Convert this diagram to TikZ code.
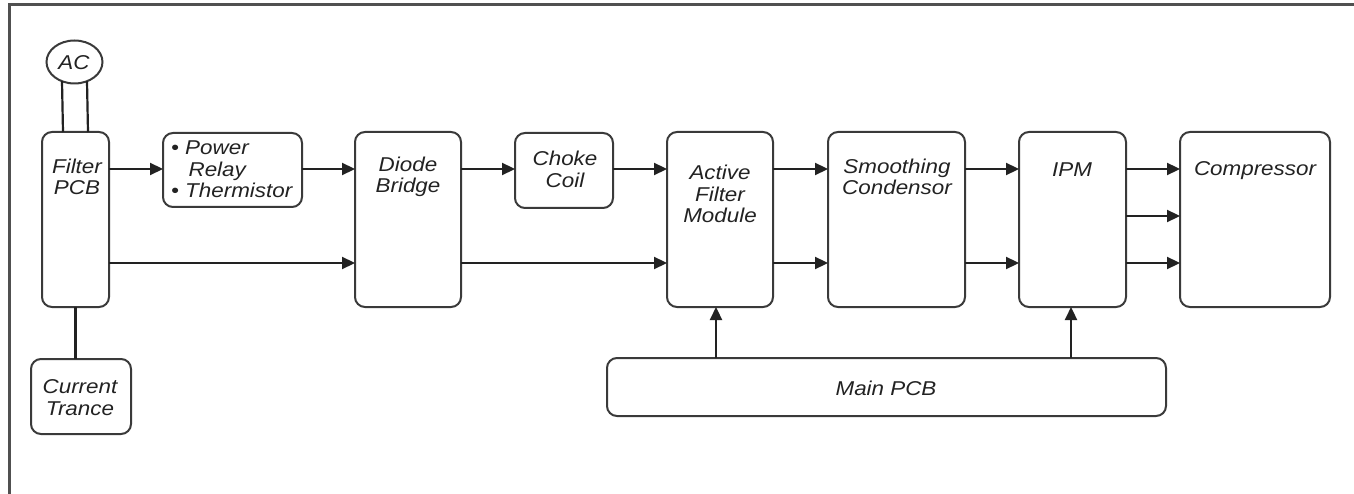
\documentclass[tikz,border=0pt]{standalone}
\usepackage{fontspec}
\setmainfont{Liberation Sans}[FakeStretch=1.12]
\usetikzlibrary{arrows.meta,shapes.geometric}
\definecolor{boxc}{HTML}{3A3A3A}
\definecolor{linec}{HTML}{222222}
\definecolor{framec}{HTML}{505050}
\begin{document}
\begin{tikzpicture}[x=1pt,y=-1pt,
  box/.style={draw=boxc,line width=2pt,rounded corners=10pt,inner sep=0pt,outer sep=0pt},
  lbl/.style={font=\fontsize{20}{21.5}\selectfont\itshape,text=linec,align=center,inner sep=0pt},
  conn/.style={draw=linec,line width=2.2pt},
  arr/.style={conn,-{Triangle[length=13pt,width=12pt]}}]
\useasboundingbox (0,0) rectangle (1354,494);
\draw[framec,line width=3pt] (1354,5) -- (9,5) -- (9,494);

% boxes
\node[ellipse,draw=boxc,line width=2pt,minimum width=56pt,minimum height=43pt,inner sep=0pt,outer sep=0pt] (ac) at (74.5,62) {};
\node[box,minimum width=67pt,minimum height=175pt] (filt) at (75.5,219.5) {};
\node[box,minimum width=100pt,minimum height=75pt] (cur) at (81,396.5) {};
\node[box,minimum width=139pt,minimum height=74pt] (relay) at (232.5,170) {};
\node[box,minimum width=106pt,minimum height=175pt] (diode) at (408,219.5) {};
\node[box,minimum width=98pt,minimum height=75pt] (choke) at (564,170.5) {};
\node[box,minimum width=106pt,minimum height=175pt] (afm) at (720,219.5) {};
\node[box,minimum width=137pt,minimum height=175pt] (smooth) at (896.5,219.5) {};
\node[box,minimum width=107pt,minimum height=175pt] (ipm) at (1072.5,219.5) {};
\node[box,minimum width=150pt,minimum height=175pt] (comp) at (1255,219.5) {};
\node[box,minimum width=559pt,minimum height=58pt] (main) at (886.5,387) {};

% labels
\node[lbl] (ac-t) at (74,63) {AC};
\node[lbl] (filt-t) at (77,177) {Filter\\PCB};
\node[lbl] (cur-t) at (80,397.5) {Current\\Trance};
\node[lbl,align=left,anchor=west] (relay-t) at (171,169.5) {\textbullet\ Power\\\hphantom{\textbullet\ }\,Relay\\\textbullet\ Thermistor};
\node[lbl] (diode-t) at (408,177) {Diode\\Bridge};
\node[lbl] (choke-t) at (565,169.5) {Choke\\Coil};
\node[lbl] (afm-t) at (720,194) {Active\\Filter\\Module};
\node[lbl] (smooth-t) at (897,177) {Smoothing\\Condensor};
\node[lbl] (ipm-t) at (1072,170) {IPM};
\node[lbl] (comp-t) at (1255,171) {Compressor};
\node[lbl] (main-t) at (886,388) {Main PCB};

% row coordinates
\coordinate (up) at (0,169);
\coordinate (mid) at (0,216);
\coordinate (lo) at (0,263);

% connectors
\draw[conn] ([xshift=-12.5pt]filt.north) -- ([xshift=-12.5pt,yshift=2.3pt]ac.south);
\draw[conn] ([xshift=12.5pt]filt.north) -- ([xshift=12.5pt,yshift=2.3pt]ac.south);
\draw[conn] (filt.south) -- (filt.south |- cur.north);
\draw[arr] (filt.east |- up) -- (relay.west |- up);
\draw[arr] (relay.east |- up) -- (diode.west |- up);
\draw[arr] (filt.east |- lo) -- (diode.west |- lo);
\draw[arr] (diode.east |- up) -- (choke.west |- up);
\draw[arr] (choke.east |- up) -- (afm.west |- up);
\draw[arr] (diode.east |- lo) -- (afm.west |- lo);
\draw[arr] (afm.east |- up) -- (smooth.west |- up);
\draw[arr] (afm.east |- lo) -- (smooth.west |- lo);
\draw[arr] (smooth.east |- up) -- (ipm.west |- up);
\draw[arr] (smooth.east |- lo) -- (ipm.west |- lo);
\draw[arr] (ipm.east |- up) -- (comp.west |- up);
\draw[arr] (ipm.east |- mid) -- (comp.west |- mid);
\draw[arr] (ipm.east |- lo) -- (comp.west |- lo);
\draw[arr] ([xshift=-4pt]main.north -| afm.south) -- ([xshift=-4pt]afm.south);
\draw[arr] ([xshift=-1.5pt]main.north -| ipm.south) -- ([xshift=-1.5pt]ipm.south);
\end{tikzpicture}
\end{document}
